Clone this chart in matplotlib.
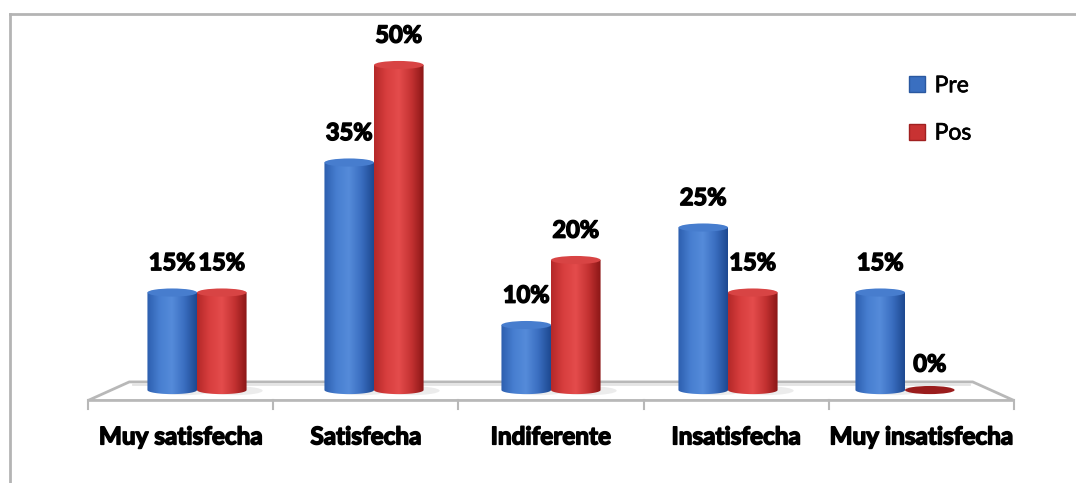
import numpy as np
import matplotlib.pyplot as plt
from matplotlib.patches import Ellipse, PathPatch, Patch, Polygon
from matplotlib.path import Path
from matplotlib.colors import LinearSegmentedColormap
import matplotlib.patheffects as pe

categories = ['Muy satisfecha', 'Satisfecha', 'Indiferente', 'Insatisfecha', 'Muy insatisfecha']
pre = [15, 35, 10, 25, 15]
pos = [15, 50, 20, 15, 0]
series_names = ['Pre', 'Pos']

plt.rcParams['font.family'] = ['Lato', 'DejaVu Sans']

fig = plt.figure(figsize=(10.76, 4.83), dpi=100)
ax = fig.add_axes([0, 0, 1, 1])
ax.set_xlim(-1.113, 4.966)
ax.set_ylim(-14.3, 60)
ax.axis('off')

# gradients across the cylinder face: edge -> highlight -> dark edge
blue_cmap = LinearSegmentedColormap.from_list(
    'blue_cyl', ['#2c5eae', '#477ed0', '#558bda', '#3a6ec0', '#1d4890'])
red_cmap = LinearSegmentedColormap.from_list(
    'red_cyl', ['#b42828', '#d83e3e', '#e44c4c', '#c43232', '#8a1616'])
top_colors = {'Pre': '#477dce', 'Pos': '#d84444'}
zero_color = '#9a1c1c'

bar_w = 0.28
ell_h = 1.25      # vertical size of the elliptical caps
n = len(categories)
grad = np.linspace(0, 1, 256).reshape(1, -1)

# perspective floor
front_k, back_k = 1.046, 0.953
front_y, back_y = -1.6, 1.25
mid = (n - 1) / 2
fl = mid - (mid + 0.5) * front_k
fr = mid + (mid + 0.5) * front_k
bl = mid - (mid + 0.5) * back_k
br = mid + (mid + 0.5) * back_k
floor = Polygon([(fl, front_y), (bl, back_y), (br, back_y), (fr, front_y)],
                closed=True, facecolor='white', edgecolor='#b8b8b8', lw=2, zorder=1)
ax.add_patch(floor)
# faint inner shading along the back edge
ax.plot([bl + 0.02, br - 0.02], [back_y - 0.35, back_y - 0.35], color='#e4e4e4', lw=2, zorder=1)
for k in range(n + 1):
    tx = mid + (k - n / 2) * front_k
    ax.plot([tx, tx], [front_y, front_y - 1.3], color='#b8b8b8', lw=1.5, zorder=1)


def cylinder(xc, value, cmap, top_color):
    x0, x1 = xc - bar_w / 2, xc + bar_w / 2
    if value <= 0:
        ax.add_patch(Ellipse((xc, 0), bar_w, ell_h, facecolor=zero_color,
                             edgecolor='none', zorder=3))
        return
    # body outline: sides plus lower half-ellipse
    t = np.linspace(np.pi, 2 * np.pi, 40)
    verts = [(x0, value)] + [(xc + bar_w / 2 * np.cos(a), ell_h / 2 * np.sin(a)) for a in t] + [(x1, value), (x0, value)]
    body = PathPatch(Path(verts, closed=True), facecolor='none', edgecolor='none',
                     transform=ax.transData)
    ax.add_patch(body)
    im = ax.imshow(grad, cmap=cmap, extent=(x0, x1, -ell_h, value), aspect='auto',
                   interpolation='bilinear', zorder=3)
    im.set_clip_path(body)
    # soft shadow on the floor
    ax.add_patch(Ellipse((xc + 0.07, -0.1), bar_w * 1.15, ell_h * 1.1, facecolor='#dadada',
                         edgecolor='none', alpha=0.5, zorder=2))
    ax.add_patch(Ellipse((xc, value), bar_w, ell_h, facecolor=top_color,
                         edgecolor='none', zorder=4))


heavy = [pe.withStroke(linewidth=1.1, foreground='black')]
label_kw = dict(ha='center', va='center', fontsize=17, fontweight='bold', color='black',
                zorder=5, path_effects=heavy)
for i in range(n):
    for xc, v, cmap, name in [(i - bar_w / 2, pre[i], blue_cmap, 'Pre'),
                              (i + bar_w / 2, pos[i], red_cmap, 'Pos')]:
        cylinder(xc, v, cmap, top_colors[name])
        ax.text(xc, v + (4.6 if v > 0 else 4.0), f'{v}%', **label_kw)
    ax.text(mid + (i - mid) * front_k, -7.2, categories[i], ha='center', va='center',
            fontsize=17.5, fontweight='bold', color='black', path_effects=heavy)

handles = [Patch(facecolor='#3a6fc0', edgecolor='#2a58a0'),
           Patch(facecolor='#c83232', edgecolor='#a02020')]
leg = ax.legend(handles, series_names, loc='upper left', bbox_to_anchor=(0.826, 0.887),
                frameon=False, fontsize=16.5, handlelength=0.7, handleheight=0.7,
                handletextpad=0.4, labelspacing=1.15)
for txt in leg.get_texts():
    txt.set_path_effects([pe.withStroke(linewidth=0.5, foreground='black')])

# chart frame (top and left edges)
fig.add_artist(plt.Line2D([10 / 1076, 1], [1 - 14 / 483] * 2, color='#b4b4b4', lw=2))
fig.add_artist(plt.Line2D([10 / 1076] * 2, [0, 1 - 14 / 483], color='#b4b4b4', lw=2))

fig.savefig('out.png', dpi=100)
